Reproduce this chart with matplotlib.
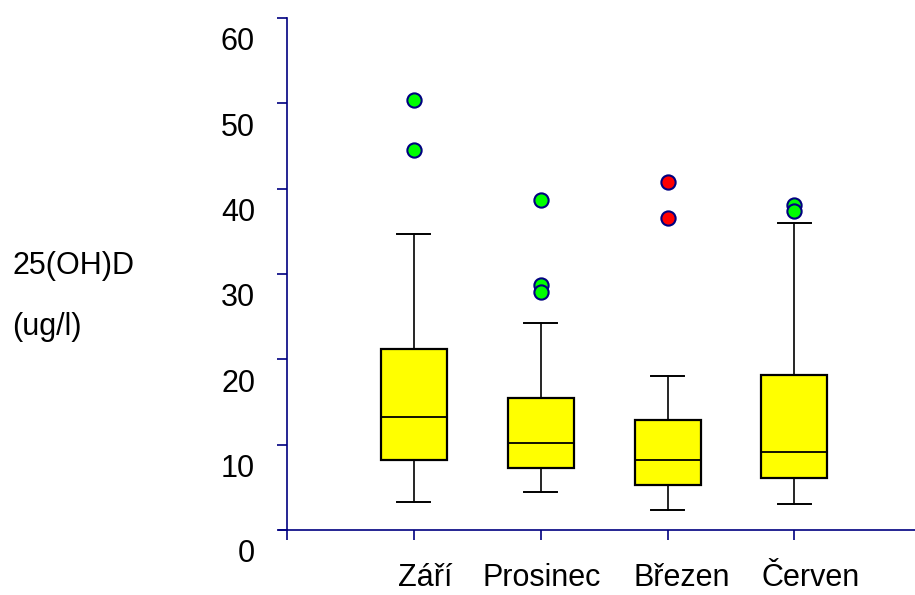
import numpy as np
import matplotlib.pyplot as plt
import matplotlib.transforms as mtransforms

plt.rcParams['font.family'] = ['Liberation Sans', 'DejaVu Sans']

months = ['Září', 'Prosinec', 'Březen', 'Červen']
q1 = [8.2, 7.3, 5.3, 6.1]
medians = [13.2, 10.2, 8.2, 9.1]
q3 = [21.2, 15.5, 12.9, 18.2]
whislo = [3.3, 4.5, 2.3, 3.1]
whishi = [34.7, 24.2, 18.0, 36.0]
outliers = [[50.4, 44.5], [38.7, 28.7, 27.9], [40.8, 36.6], [38.1, 37.4]]
flier_colors = ['#00ff00', '#00ff00', '#ff0000', '#00ff00']

navy = '#000080'

stats = []
for i, m in enumerate(months):
    stats.append(dict(label=m, q1=q1[i], med=medians[i], q3=q3[i],
                      whislo=whislo[i], whishi=whishi[i], fliers=[]))

fig = plt.figure(figsize=(9.15, 5.95), dpi=100)
ax = fig.add_axes([287 / 915, 1 - 530 / 595, 1 - 287 / 915, 512 / 595])

pos = np.arange(1, len(months) + 1)
ax.bxp(stats, positions=pos, widths=0.52, patch_artist=True, showfliers=False,
       boxprops=dict(facecolor='#ffff00', edgecolor='black', linewidth=1.6),
       medianprops=dict(color='black', linewidth=1.3),
       whiskerprops=dict(color='black', linewidth=1.2),
       capprops=dict(color='black', linewidth=1.4),
       capwidths=0.26)

for i, vals in enumerate(outliers):
    ax.scatter([pos[i]] * len(vals), vals, s=105, color=flier_colors[i],
               edgecolors=navy, linewidths=1.5, zorder=3)

ax.set_xlim(0, 4.95)
ax.set_ylim(0, 60)
ax.set_xticks([0] + list(pos))
ax.set_xticklabels([''] + months)
ax.set_yticks(range(0, 61, 10))

for s in ['top', 'right']:
    ax.spines[s].set_visible(False)
for s in ['left', 'bottom']:
    ax.spines[s].set_color(navy)
    ax.spines[s].set_linewidth(1.2)

ax.tick_params(axis='both', colors=navy, length=7, width=1.2, labelsize=22,
               labelcolor='black')
ax.tick_params(axis='x', pad=17)
ax.tick_params(axis='y', pad=16)

# y tick labels sit a bit below their ticks
offset = mtransforms.ScaledTranslation(0, -21 / 100, fig.dpi_scale_trans)
for lab in ax.get_yticklabels():
    lab.set_transform(lab.get_transform() + offset)

# month labels are not quite centred under their ticks
x_shift = [0, 11, 1, 14, 16]
for lab, dx in zip(ax.get_xticklabels(), x_shift):
    lab.set_transform(lab.get_transform() +
                      mtransforms.ScaledTranslation(dx / 100, 0, fig.dpi_scale_trans))

# x axis line pokes out a little to the left of the y axis
ax.plot([-0.06, 0], [0, 0], color=navy, lw=1.2, clip_on=False)

fig.text(12 / 915, 1 - 274 / 595, '25(OH)D', fontsize=22, ha='left', va='baseline')
fig.text(12 / 915, 1 - 335 / 595, '(ug/l)', fontsize=22, ha='left', va='baseline')

fig.savefig('out.png', dpi=100)
